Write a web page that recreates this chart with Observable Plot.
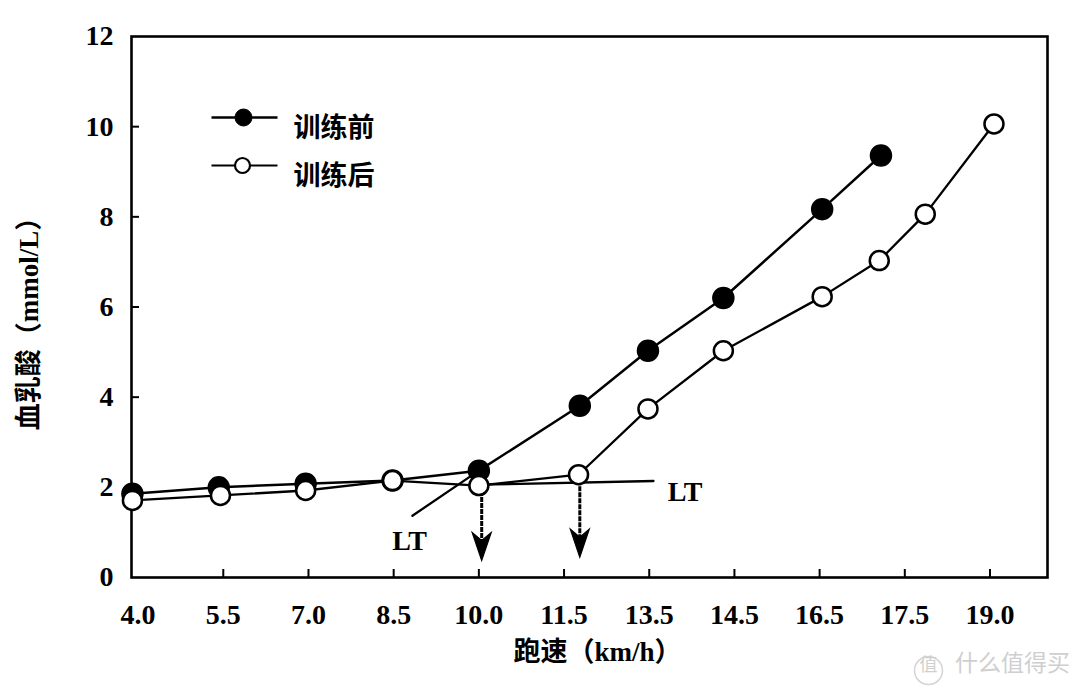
<!DOCTYPE html>
<html>
<head>
<meta charset="utf-8">
<script src="https://cdn.jsdelivr.net/npm/d3@7"></script>
<script src="https://cdn.jsdelivr.net/npm/@observablehq/plot@0.6"></script>
<style>
  html, body { margin: 0; padding: 0; background: #ffffff; }
  #chart { width: 1080px; height: 696px; }
</style>
</head>
<body>
<div id="chart"></div>
<script>
// ---- data ----
const speedTicks = [4.0, 5.5, 7.0, 8.5, 10.0, 11.5, 13.5, 14.5, 16.5, 17.5, 19.0];
const tickLabels = ["4.0", "5.5", "7.0", "8.5", "10.0", "11.5", "13.5", "14.5", "16.5", "17.5", "19.0"];
const yTicks = [0, 2, 4, 6, 8, 10, 12];

const seriesNames = ["训练前", "训练后"];

const beforeSpeed   = [3.9, 5.42, 6.95, 8.48, 10.0, 11.87, 13.47, 14.37, 16.53, 17.22];
const beforeLactate = [1.86, 2.0, 2.08, 2.15, 2.37, 3.81, 5.03, 6.2, 8.17, 9.36];

const afterSpeed    = [3.9, 5.45, 6.95, 8.48, 10.0, 11.84, 13.47, 14.37, 16.53, 17.2, 17.86, 19.07];
const afterLactate  = [1.71, 1.82, 1.93, 2.15, 2.04, 2.28, 3.74, 5.03, 6.23, 7.03, 8.06, 10.06];

// lactate-threshold construction lines
const ltLineBeforeSpeed = [8.83, 10.0];
const ltLineBeforeValue = [1.37, 2.37];
const ltLineAfterSpeed  = [10.0, 13.55];
const ltLineAfterValue  = [2.06, 2.14];

// LT labels
const ltLabelSpeed = [8.78, 13.92];
const ltLabelValue = [0.8, 1.89];
const ltLabelText  = ["LT", "LT"];

// arrows pointing to the thresholds
const arrowSpeed = [10.05, 11.87];
const arrowTop   = [2.04, 2.28];
const arrowTip   = [0.377, 0.45];

const xLabel = "跑速（km/h）";
const yLabel = "血乳酸（mmol/L）";
const watermarkText = "什么值得买";
const watermarkIcon = "值";

// ---- helpers ----
// position along the (evenly spaced, non-linear) speed axis
const toIdx = d3.scaleLinear().domain(speedTicks).range(d3.range(speedTicks.length));

const before = beforeSpeed.map((s, i) => ({s, v: beforeLactate[i]}));
const after  = afterSpeed.map((s, i) => ({s, v: afterLactate[i]}));
const lt1 = ltLineBeforeSpeed.map((s, i) => ({s, v: ltLineBeforeValue[i]}));
const lt2 = ltLineAfterSpeed.map((s, i) => ({s, v: ltLineAfterValue[i]}));
const ltLabels = ltLabelSpeed.map((s, i) => ({s, v: ltLabelValue[i], t: ltLabelText[i]}));
const arrows = arrowSpeed.map((s, i) => ({s, top: arrowTop[i], tip: arrowTip[i]}));

const arrowHead = {
  draw(ctx) {
    ctx.moveTo(0, 0);
    ctx.lineTo(-9.5, -28);
    ctx.lineTo(0, -20);
    ctx.lineTo(9.5, -28);
    ctx.closePath();
  }
};
const legendLine = {
  draw(ctx) {
    ctx.moveTo(-33, 0);
    ctx.lineTo(33, 0);
  }
};

const W = 1080, H = 696;
const mL = 131, mR = 33, mT = 36, mB = 119;
const innerW = W - mL - mR, innerH = H - mT - mB;

const serif = "'Liberation Serif', 'Times New Roman', serif";
const mixed = "'Liberation Serif', 'Noto Sans CJK SC', serif";
const cjk = "'Noto Sans CJK SC', sans-serif";

const chart = Plot.plot({
  width: W,
  height: H,
  marginLeft: mL,
  marginRight: mR,
  marginTop: mT,
  marginBottom: mB,
  style: {fontFamily: serif, fontSize: "28px", fontWeight: "bold", color: "black", background: "white"},
  x: {type: "linear", domain: [-0.0775, 10.675]},
  y: {type: "linear", domain: [0, 12]},
  marks: [
    // inward ticks
    Plot.tickY(yTicks.slice(1, -1), {y: d => d, stroke: "black", strokeWidth: 2, insetRight: innerW - 8}),
    Plot.tickX(d3.range(1, speedTicks.length), {x: d => d, stroke: "black", strokeWidth: 2, insetTop: innerH - 8}),
    Plot.axisY({ticks: yTicks, tickSize: 0, tickPadding: 18, label: null, fontSize: 28}),
    Plot.axisX({ticks: d3.range(speedTicks.length), tickFormat: i => tickLabels[i], tickSize: 0, tickPadding: 27, label: null, fontSize: 28}),
    Plot.frame({stroke: "black", strokeWidth: 2.6}),

    // series lines
    Plot.line(before, {x: d => toIdx(d.s), y: "v", stroke: "black", strokeWidth: 2.5}),
    Plot.line(after, {x: d => toIdx(d.s), y: "v", stroke: "black", strokeWidth: 2.3}),
    // LT construction lines
    Plot.line(lt1, {x: d => toIdx(d.s), y: "v", stroke: "black", strokeWidth: 2.3}),
    Plot.line(lt2, {x: d => toIdx(d.s), y: "v", stroke: "black", strokeWidth: 2.3}),

    // arrows
    Plot.ruleX(arrows, {x: d => toIdx(d.s), y1: "top", y2: d => d.tip + 0.25, stroke: "black", strokeWidth: 3, strokeDasharray: "5,1"}),
    Plot.dot(arrows, {x: d => toIdx(d.s), y: "tip", symbol: arrowHead, fill: "black", stroke: "black", strokeWidth: 1.2}),

    // points
    Plot.dot(before, {x: d => toIdx(d.s), y: "v", r: 10.5, fill: "black", stroke: "black", strokeWidth: 1.5}),
    Plot.dot(after, {x: d => toIdx(d.s), y: "v", r: 9.5, fill: "white", stroke: "black", strokeWidth: 2.5}),

    // LT labels
    Plot.text(ltLabels, {x: d => toIdx(d.s), y: "v", text: "t", fontSize: 28, fontWeight: "bold", fontFamily: serif, fill: "black"}),

    // legend
    Plot.dot([0], {frameAnchor: "top-left", dx: 113, dy: 81, symbol: legendLine, fill: "none", stroke: "black", strokeWidth: 2.6}),
    Plot.dot([0], {frameAnchor: "top-left", dx: 112, dy: 81, r: 8.5, fill: "black", stroke: "black", strokeWidth: 1}),
    Plot.text([seriesNames[0]], {frameAnchor: "top-left", dx: 162, dy: 81, text: d => d, textAnchor: "start", fontFamily: cjk, fontSize: 27, fontWeight: "bold", fill: "black"}),
    Plot.dot([0], {frameAnchor: "top-left", dx: 113, dy: 129, symbol: legendLine, fill: "none", stroke: "black", strokeWidth: 2.2}),
    Plot.dot([0], {frameAnchor: "top-left", dx: 111, dy: 129, r: 7.5, fill: "white", stroke: "black", strokeWidth: 2.2}),
    Plot.text([seriesNames[1]], {frameAnchor: "top-left", dx: 162, dy: 129, text: d => d, textAnchor: "start", fontFamily: cjk, fontSize: 27, fontWeight: "bold", fill: "black"}),

    // axis titles
    Plot.text([xLabel], {frameAnchor: "bottom", dx: 8, dy: 83, text: d => d, textAnchor: "middle", fontFamily: mixed, fontSize: 27, fontWeight: "bold", fill: "black"}),
    Plot.text([yLabel], {frameAnchor: "left", dx: -102, dy: 10, rotate: -90, text: d => d, textAnchor: "middle", fontFamily: mixed, fontSize: 27, fontWeight: "bold", fill: "black"}),

    // watermark
    Plot.dot([0], {frameAnchor: "bottom-right", dx: -119, dy: 93, r: 14, fill: "none", stroke: "#d4d4d4", strokeWidth: 1.5}),
    Plot.text([watermarkIcon], {frameAnchor: "bottom-right", dx: -119, dy: 93, text: d => d, textAnchor: "middle", fontFamily: cjk, fontSize: 18, fontWeight: "normal", fill: "#cfcfcf"}),
    Plot.text([watermarkText], {frameAnchor: "bottom-right", dx: -35, dy: 93, text: d => d, textAnchor: "middle", fontFamily: cjk, fontSize: 23, fontWeight: "normal", fill: "#cfcfcf"})
  ]
});

document.getElementById("chart").appendChild(chart);
</script>
</body>
</html>
